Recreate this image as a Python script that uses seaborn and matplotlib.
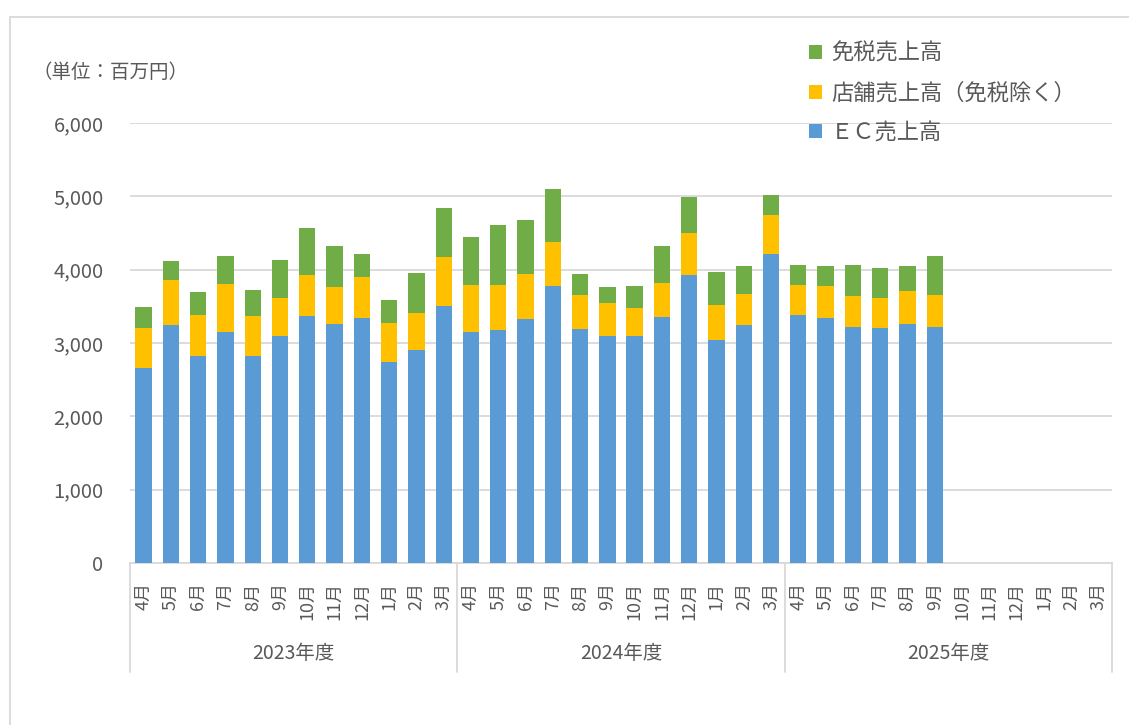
import numpy as np
import pandas as pd
import matplotlib
matplotlib.use("Agg")
import matplotlib.pyplot as plt
from matplotlib.patches import Patch, Rectangle
import seaborn as sns

# data (millions of yen): fiscal years 2023-2025, Apr..Mar
years = ['2023年度', '2024年度', '2025年度']
months = ['4月', '5月', '6月', '7月', '8月', '9月', '10月', '11月', '12月', '1月', '2月', '3月']
ec_sales = [2655, 3245, 2827, 3154, 2827, 3095, 3364, 3255, 3336, 2741, 2900, 3509,
            3154, 3177, 3323, 3782, 3195, 3100, 3100, 3359, 3932, 3045, 3250, 4218,
            3382, 3345, 3222, 3205, 3264, 3214]
store_sales = [550, 610, 559, 655, 546, 514, 563, 513, 564, 527, 505, 664,
               633, 614, 613, 600, 464, 450, 382, 459, 573, 473, 414, 523,
               409, 436, 423, 409, 441, 445]
dutyfree_sales = [282, 263, 314, 382, 350, 523, 641, 555, 314, 318, 545, 672,
                  654, 818, 741, 722, 286, 209, 295, 505, 486, 450, 386, 282,
                  277, 273, 419, 409, 345, 527]

labels = ['免税売上高', '店舗売上高（免税除く）', 'ＥＣ売上高']
colors = ['#70AD47', '#FFC000', '#5B9BD5']
text_color = '#595959'
grid_color = '#D9D9D9'

df = pd.DataFrame({'pos': np.arange(len(ec_sales)),
                   'ec': ec_sales, 'store': store_sales, 'dutyfree': dutyfree_sales})
df['ec_store'] = df['ec'] + df['store']
df['total'] = df['ec_store'] + df['dutyfree']

sns.set_style('white')
plt.rcParams['font.family'] = ['Noto Sans CJK JP', 'DejaVu Sans']

fig = plt.figure(figsize=(11.29, 7.25), dpi=100)
ax = fig.add_axes([130/1129, 1-563/725, (1112-130)/1129, 440/725])

# stacked bars: draw cumulative heights back to front
for col, c in zip(['total', 'ec_store', 'ec'], colors):
    sns.barplot(data=df, x='pos', y=col, native_scale=True, color=c, width=0.6,
                saturation=1, edgecolor='none', ax=ax, zorder=3)

n_slots = len(years) * len(months)
ax.set_xlim(-0.5, n_slots - 0.5)
ax.set_ylim(0, 6000)
ax.set_yticks(range(0, 6001, 1000))
ax.set_yticklabels([f'{v:,}' for v in range(0, 6001, 1000)])
ax.yaxis.grid(True, color=grid_color, linewidth=1.3, zorder=0)
ax.set_axisbelow(True)
ax.set_xlabel('')
ax.set_ylabel('')

ax.set_xticks(range(n_slots))
ax.set_xticklabels(months * len(years), rotation=90, va='top', ha='center')
ax.tick_params(axis='x', length=0, pad=14, labelsize=13, colors=text_color)
ax.tick_params(axis='y', length=0, pad=19, labelsize=14.5, colors=text_color)

for s in ['left', 'right', 'top']:
    ax.spines[s].set_visible(False)
ax.spines['bottom'].set_color(grid_color)
ax.spines['bottom'].set_linewidth(1.3)

# fiscal year groups under the month labels
trans = ax.get_xaxis_transform()
for i in range(len(years) + 1):
    xb = i * len(months) - 0.5
    ax.plot([xb, xb], [0, -0.248], transform=trans, color=grid_color,
            linewidth=1.3, clip_on=False)
for i, yr in enumerate(years):
    ax.text(i * len(months) + 5.5, -0.205, yr, transform=trans, ha='center',
            va='center', fontsize=14, color=text_color)

fig.text(33/1129, 1-72/725, '（単位：百万円）', ha='left', va='center',
         fontsize=14, color=text_color)

handles = [Patch(facecolor=c, edgecolor='none') for c in colors]
fig.legend(handles, labels, loc='upper left', bbox_to_anchor=(800/1129, 1-33/725),
           frameon=False, fontsize=16, labelcolor=text_color, handlelength=0.6,
           handleheight=0.6, handletextpad=0.4, labelspacing=0.75, borderaxespad=0)

# light chart-area border
fig.patches.append(Rectangle((10/1129, -0.1), 1.2, 1.1 - 17/725, transform=fig.transFigure,
                             fill=False, edgecolor=grid_color, linewidth=1.3))

fig.savefig('out.png', dpi=100)
